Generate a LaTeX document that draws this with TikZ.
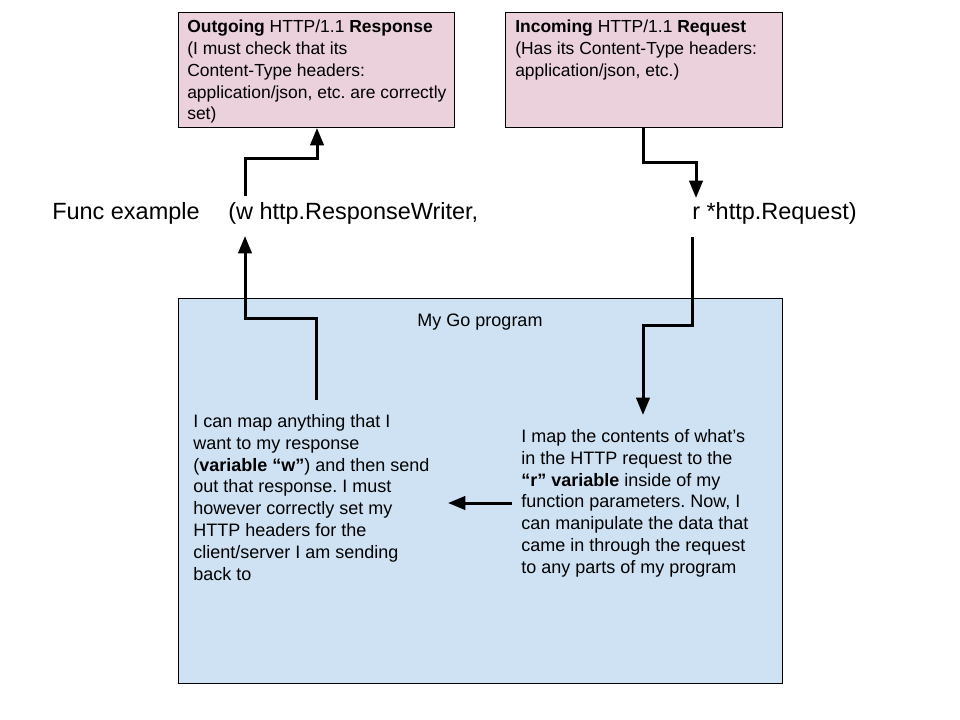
\documentclass[tikz,border=0pt]{standalone}
\usepackage{fontspec}
\setmainfont{Liberation Sans}
\usetikzlibrary{arrows.meta}
\frenchspacing

\definecolor{pinkfill}{HTML}{EAD1DC}
\definecolor{bluefill}{HTML}{CFE2F3}

\tikzset{
  pinkbox/.style={draw, fill=pinkfill, line width=0.75pt, inner sep=0pt, anchor=north west},
  bluebox/.style={draw, fill=bluefill, line width=0.75pt, inner sep=0pt, anchor=north west},
  boxtext/.style={inner sep=0pt, anchor=north west, align=left, font=\fontsize{13.5}{16.4}\selectfont},
  headtext/.style={boxtext, font=\fontsize{13.1}{16.3}\selectfont},
  calltext/.style={inner sep=0pt, anchor=base west, font=\fontsize{17.6}{20}\selectfont},
  flow/.style={line width=2.25pt, -{Triangle[length=13pt,width=10pt]}}
}

\begin{document}
\begin{tikzpicture}[x=0.75pt,y=-0.75pt]
\useasboundingbox (0,0) rectangle (960,720);

% Boxes
\node [pinkbox, minimum width=207pt, minimum height=86.25pt] (resp) at (178,12) {};
\node [pinkbox, minimum width=207.75pt, minimum height=86.25pt] (req) at (505,12) {};
\node [bluebox, minimum width=453pt, minimum height=288.75pt] (prog) at (178,298) {};

% Box texts
\node [headtext] (resptext) at (187,20) {\textbf{Outgoing} HTTP/1.1 \textbf{Response}\\(I must check that its\\Content-Type headers:\\application/json, etc. are correctly\\set)};
\node [headtext] (reqtext) at (515,20) {\textbf{Incoming} HTTP/1.1 \textbf{Request}\\(Has its Content-Type headers:\\application/json, etc.)};
\node [boxtext, anchor=base] (progtitle) at (480,326) {My Go program};

% Function signature
\node [calltext] (func) at (52,220) {Func example};
\node [calltext] (wparam) at (228,220) {(w http.ResponseWriter,};
\node [calltext] (rparam) at (692,220) {r *http.Request)};

% Inside the program
\node [boxtext] (writetext) at (193,414) {I can map anything that I\\want to my response\\(\textbf{variable “w”}) and then send\\out that response. I must\\however correctly set my\\HTTP headers for the\\client/server I am sending\\back to};
\node [boxtext] (readtext) at (521,429) {I map the contents of what’s\\in the HTTP request to the\\\textbf{“r” variable} inside of my\\function parameters. Now, I\\can manipulate the data that\\came in through the request\\to any parts of my program};

% Connector points
\coordinate (wout) at (245,196);
\coordinate (wbend) at (317,159);
\coordinate (reqout) at (643,127);
\coordinate (reqbend) at (696,163);
\coordinate (rin) at (696,198);
\coordinate (wsrc) at (316,400);
\coordinate (wbendlow) at (245,318);
\coordinate (win) at (245,236);
\coordinate (rout) at (692,237);
\coordinate (rbend) at (643,325);
\coordinate (readin) at (643,415);
\coordinate (across) at (512,503);
\coordinate (acrossin) at (448,503);

% Connectors
\draw [flow] (wout) |- (wbend) -- (wbend |- resp.south);
\draw [flow] (reqout) |- (reqbend) -- (rin);
\draw [flow] (wsrc) |- (wbendlow) -- (win);
\draw [flow] (rout) |- (rbend) -- (readin);
\draw [flow] (across) -- (acrossin);
\end{tikzpicture}
\end{document}
